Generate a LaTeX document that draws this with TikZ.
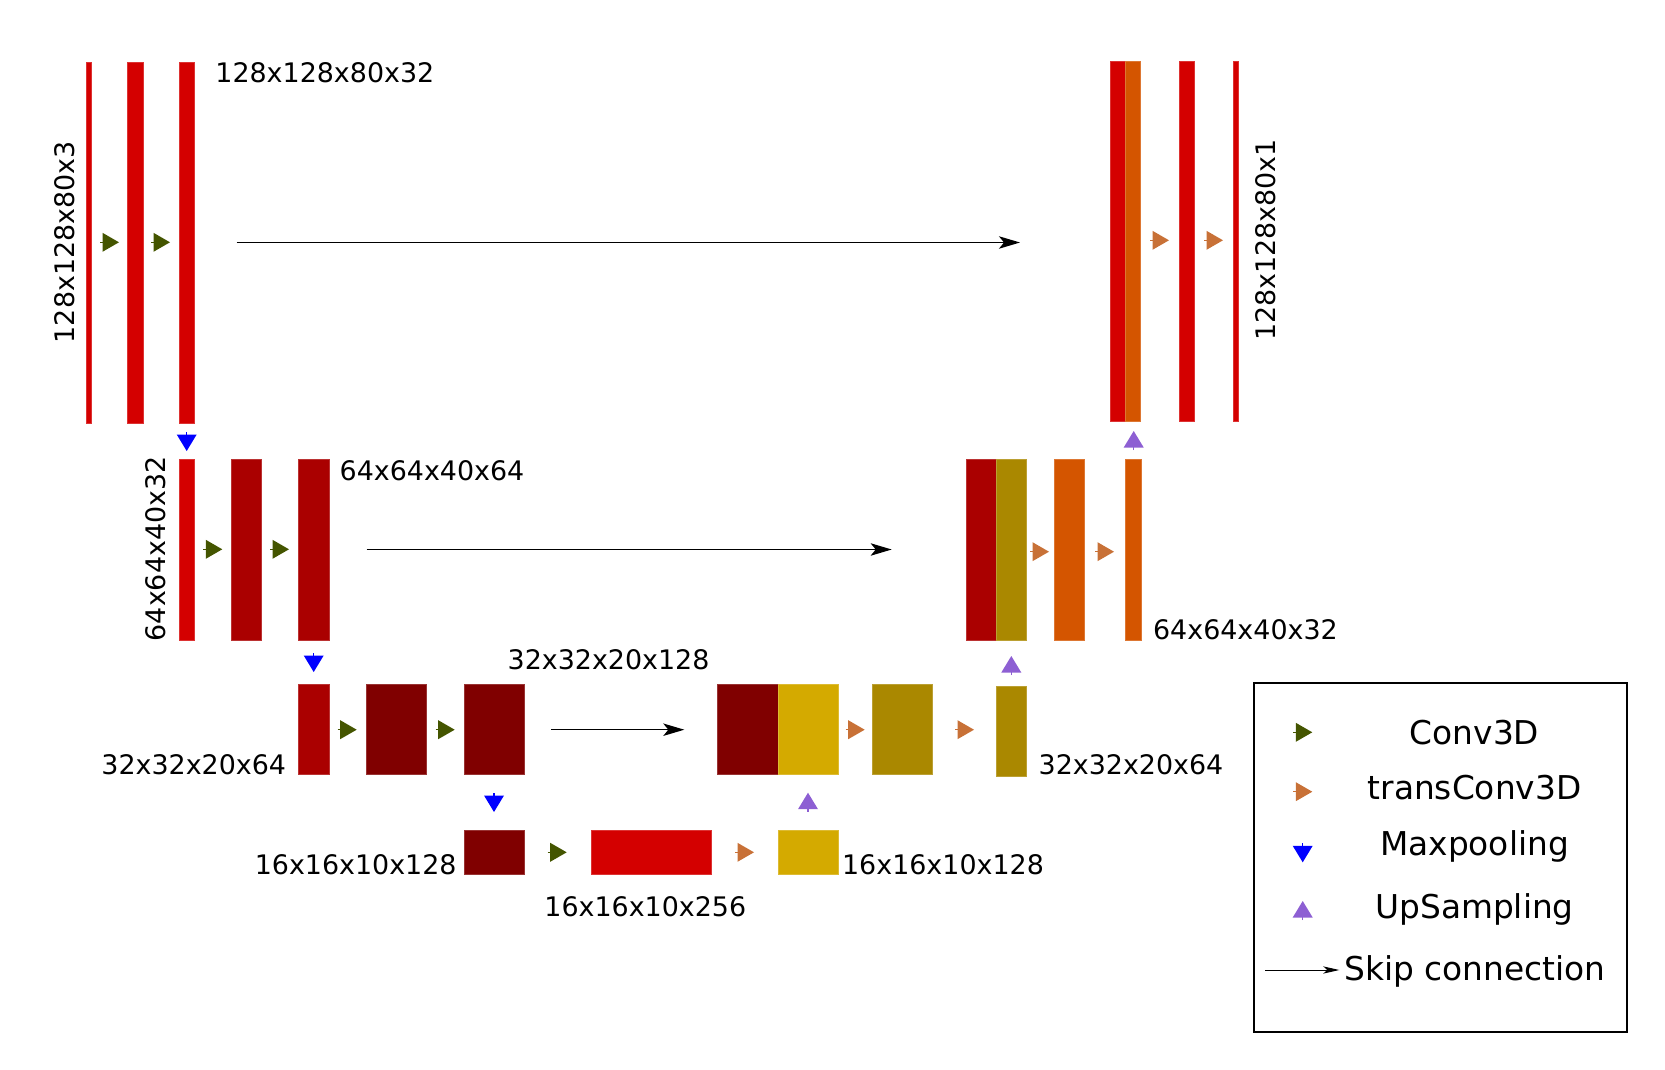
\documentclass[tikz,border=0pt]{standalone}
\usepackage{fontspec}
\setmainfont{DejaVu Sans}
\usetikzlibrary{arrows.meta,fit}
\definecolor{cRed}{HTML}{D40000}
\definecolor{cDark}{HTML}{AA0000}
\definecolor{cMaroon}{HTML}{800000}
\definecolor{cOrange}{HTML}{D45500}
\definecolor{cOlive}{HTML}{AA8800}
\definecolor{cYellow}{HTML}{D4AA00}
\definecolor{aConv}{HTML}{445500}
\definecolor{aTrans}{HTML}{C87137}
\definecolor{aPool}{HTML}{0000FF}
\definecolor{aUp}{HTML}{8D5FD3}
% right-pointing marker: colour, x of stub start, y centre
\newcommand\rmark[3]{%
  \draw[#1,line width=0.75pt] (#2,#3) -- ++(4,0);
  \fill[#1,shift={(#2,#3)}] (2.5,-9.5) -- (19,0) -- (2.5,9.5) -- cycle;}
% down-pointing marker: colour, x centre, y top
\newcommand\dmark[3]{%
  \draw[#1,line width=0.75pt] (#2,#3) -- ++(0,4);
  \fill[#1,shift={(#2,#3)}] (-10,2.5) -- (10,2.5) -- (0,19) -- cycle;}
% up-pointing marker: colour, x centre, y bottom
\newcommand\umark[3]{%
  \draw[#1,line width=0.75pt] (#2,#3) -- ++(0,-4);
  \fill[#1,shift={(#2,#3)}] (-10,-2.5) -- (10,-2.5) -- (0,-19) -- cycle;}
\begin{document}
\begin{tikzpicture}[x=0.5pt,y=-0.5pt,
  blk/.style={inner sep=0pt,outer sep=0pt,line width=0.4pt,fill=#1,draw=#1!80!white},
  lbl/.style={inner sep=0pt,font=\fontsize{13.45}{16}\selectfont},
  leg/.style={inner sep=0pt,font=\fontsize{16.4}{19}\selectfont},
  skip/.style={line width=0.75pt,-{Stealth[length=10.5pt,width=6.2pt,inset=2.5pt]}}]
\useasboundingbox (0,0) rectangle (1665,1070);

% ---------- row 1 ----------
\node[blk=cRed,fit={(86,62) (91.7,423)}] (in) {};
\node[blk=cRed,fit={(127.7,62) (143,423)}] (e1b) {};
\node[blk=cRed,fit={(179,62) (194,423)}] (e1c) {};
\node[blk=cRed,fit={(1110.3,61) (1125,421)}] (d1a) {};
\node[blk=cOrange,fit={(1125,61) (1140.7,421)}] (d1b) {};
\node[blk=cRed,fit={(1179.3,61) (1194.7,421)}] (d1c) {};
\node[blk=cRed,fit={(1233.3,61) (1238.7,421)}] (out) {};

% ---------- row 2 ----------
\node[blk=cRed,fit={(179.3,459.3) (194.3,640)}] (e2a) {};
\node[blk=cDark,fit={(231.3,459.3) (261.7,640)}] (e2b) {};
\node[blk=cDark,fit={(298.3,459.3) (329,640)}] (e2c) {};
\node[blk=cDark,fit={(966,459.3) (996,640)}] (d2a) {};
\node[blk=cOlive,fit={(996,459.3) (1026.7,640)}] (d2b) {};
\node[blk=cOrange,fit={(1054,459.3) (1084,640)}] (d2c) {};
\node[blk=cOrange,fit={(1125.3,459.3) (1141.3,640)}] (d2d) {};

% ---------- row 3 ----------
\node[blk=cDark,fit={(298.7,684.3) (329,774.7)}] (e3a) {};
\node[blk=cMaroon,fit={(366,684.3) (426.7,774.7)}] (e3b) {};
\node[blk=cMaroon,fit={(464,684.3) (524.3,774.7)}] (e3c) {};
\node[blk=cMaroon,fit={(717.7,684.3) (778,774.7)}] (d3a) {};
\node[blk=cYellow,fit={(778,684.3) (838.3,774.7)}] (d3b) {};
\node[blk=cOlive,fit={(872,684.3) (932.3,774.7)}] (d3c) {};
\node[blk=cOlive,fit={(996.3,686) (1026.7,776)}] (d3d) {};

% ---------- row 4 ----------
\node[blk=cMaroon,fit={(464,830) (524.3,874.7)}] (e4) {};
\node[blk=cRed,fit={(591,830) (711.7,874.7)}] (bn) {};
\node[blk=cYellow,fit={(778,830) (838.3,874.7)}] (d4) {};

% ---------- conv / transconv markers ----------
\rmark{aConv}{100}{242.3}
\rmark{aConv}{151}{242.3}
\rmark{aConv}{203.3}{549.3}
\rmark{aConv}{270}{549.3}
\rmark{aConv}{337.7}{729.7}
\rmark{aConv}{435.7}{729.7}
\rmark{aConv}{547.7}{852.3}
\rmark{aTrans}{735}{852.3}
\rmark{aTrans}{845.7}{729.7}
\rmark{aTrans}{955}{729.7}
\rmark{aTrans}{1030}{551.7}
\rmark{aTrans}{1095}{551.7}
\rmark{aTrans}{1150}{240.3}
\rmark{aTrans}{1204}{240.3}

% ---------- pooling / upsampling markers ----------
\dmark{aPool}{186.7}{432}
\dmark{aPool}{313.7}{653}
\dmark{aPool}{494}{793}
\umark{aUp}{808}{811.7}
\umark{aUp}{1011.3}{675}
\umark{aUp}{1133.7}{450}

% ---------- skip connections ----------
\coordinate (s1a) at (236.7,242.5);
\coordinate (s1b) at (1020,242.5);
\coordinate (s2a) at (366.7,549.5);
\coordinate (s2b) at (891.7,549.5);
\coordinate (s3a) at (551,729.7);
\coordinate (s3b) at (684.3,729.7);
\draw[skip] (s1a) -- (s1b);
\draw[skip] (s2a) -- (s2b);
\draw[skip] (s3a) -- (s3b);

% ---------- labels ----------
\node[lbl,rotate=90] (t1) at (65,242.3) {128x128x80x3};
\node[lbl,anchor=base west] (t2) at (215,82.7) {128x128x80x32};
\node[lbl,rotate=90] (t3) at (155.5,548.8) {64x64x40x32};
\node[lbl,anchor=base west] (t4) at (339.3,480) {64x64x40x64};
\node[lbl,anchor=base east] (t5) at (286.5,774.3) {32x32x20x64};
\node[lbl,anchor=base west] (t6) at (507.3,669) {32x32x20x128};
\node[lbl,anchor=base east] (t7) at (457,874.3) {16x16x10x128};
\node[lbl,anchor=base west] (t8) at (544,916.7) {16x16x10x256};
\node[lbl,anchor=base west] (t9) at (841.7,874.3) {16x16x10x128};
\node[lbl,anchor=base west] (t10) at (1038.3,774.3) {32x32x20x64};
\node[lbl,anchor=base west] (t11) at (1152.7,639.3) {64x64x40x32};
\node[lbl,rotate=90] (t12) at (1266,240) {128x128x80x1};

% ---------- legend ----------
\node[draw,line width=1pt,inner sep=0pt,fit={(1254,682.7) (1627.3,1031.7)}] (legend) {};
\rmark{aConv}{1293.3}{732.3}
\rmark{aTrans}{1293.3}{791.7}
\dmark{aPool}{1302.7}{843.3}
\umark{aUp}{1302.7}{920}
\node[leg,anchor=base] (lg1) at (1474.5,744) {Conv3D};
\node[leg,anchor=base] (lg2) at (1474.5,799.3) {transConv3D};
\node[leg,anchor=base] (lg3) at (1474.5,855.7) {Maxpooling};
\node[leg,anchor=base] (lg4) at (1474.5,918.3) {UpSampling};
\coordinate (lsa) at (1265,970);
\coordinate (lsb) at (1339.3,970);
\draw[line width=0.5pt,-{Stealth[length=8pt,width=3.6pt,inset=2pt]}] (lsa) -- (lsb);
\node[leg,anchor=base west] (lg5) at (1344,980.7) {Skip connection};
\end{tikzpicture}
\end{document}
